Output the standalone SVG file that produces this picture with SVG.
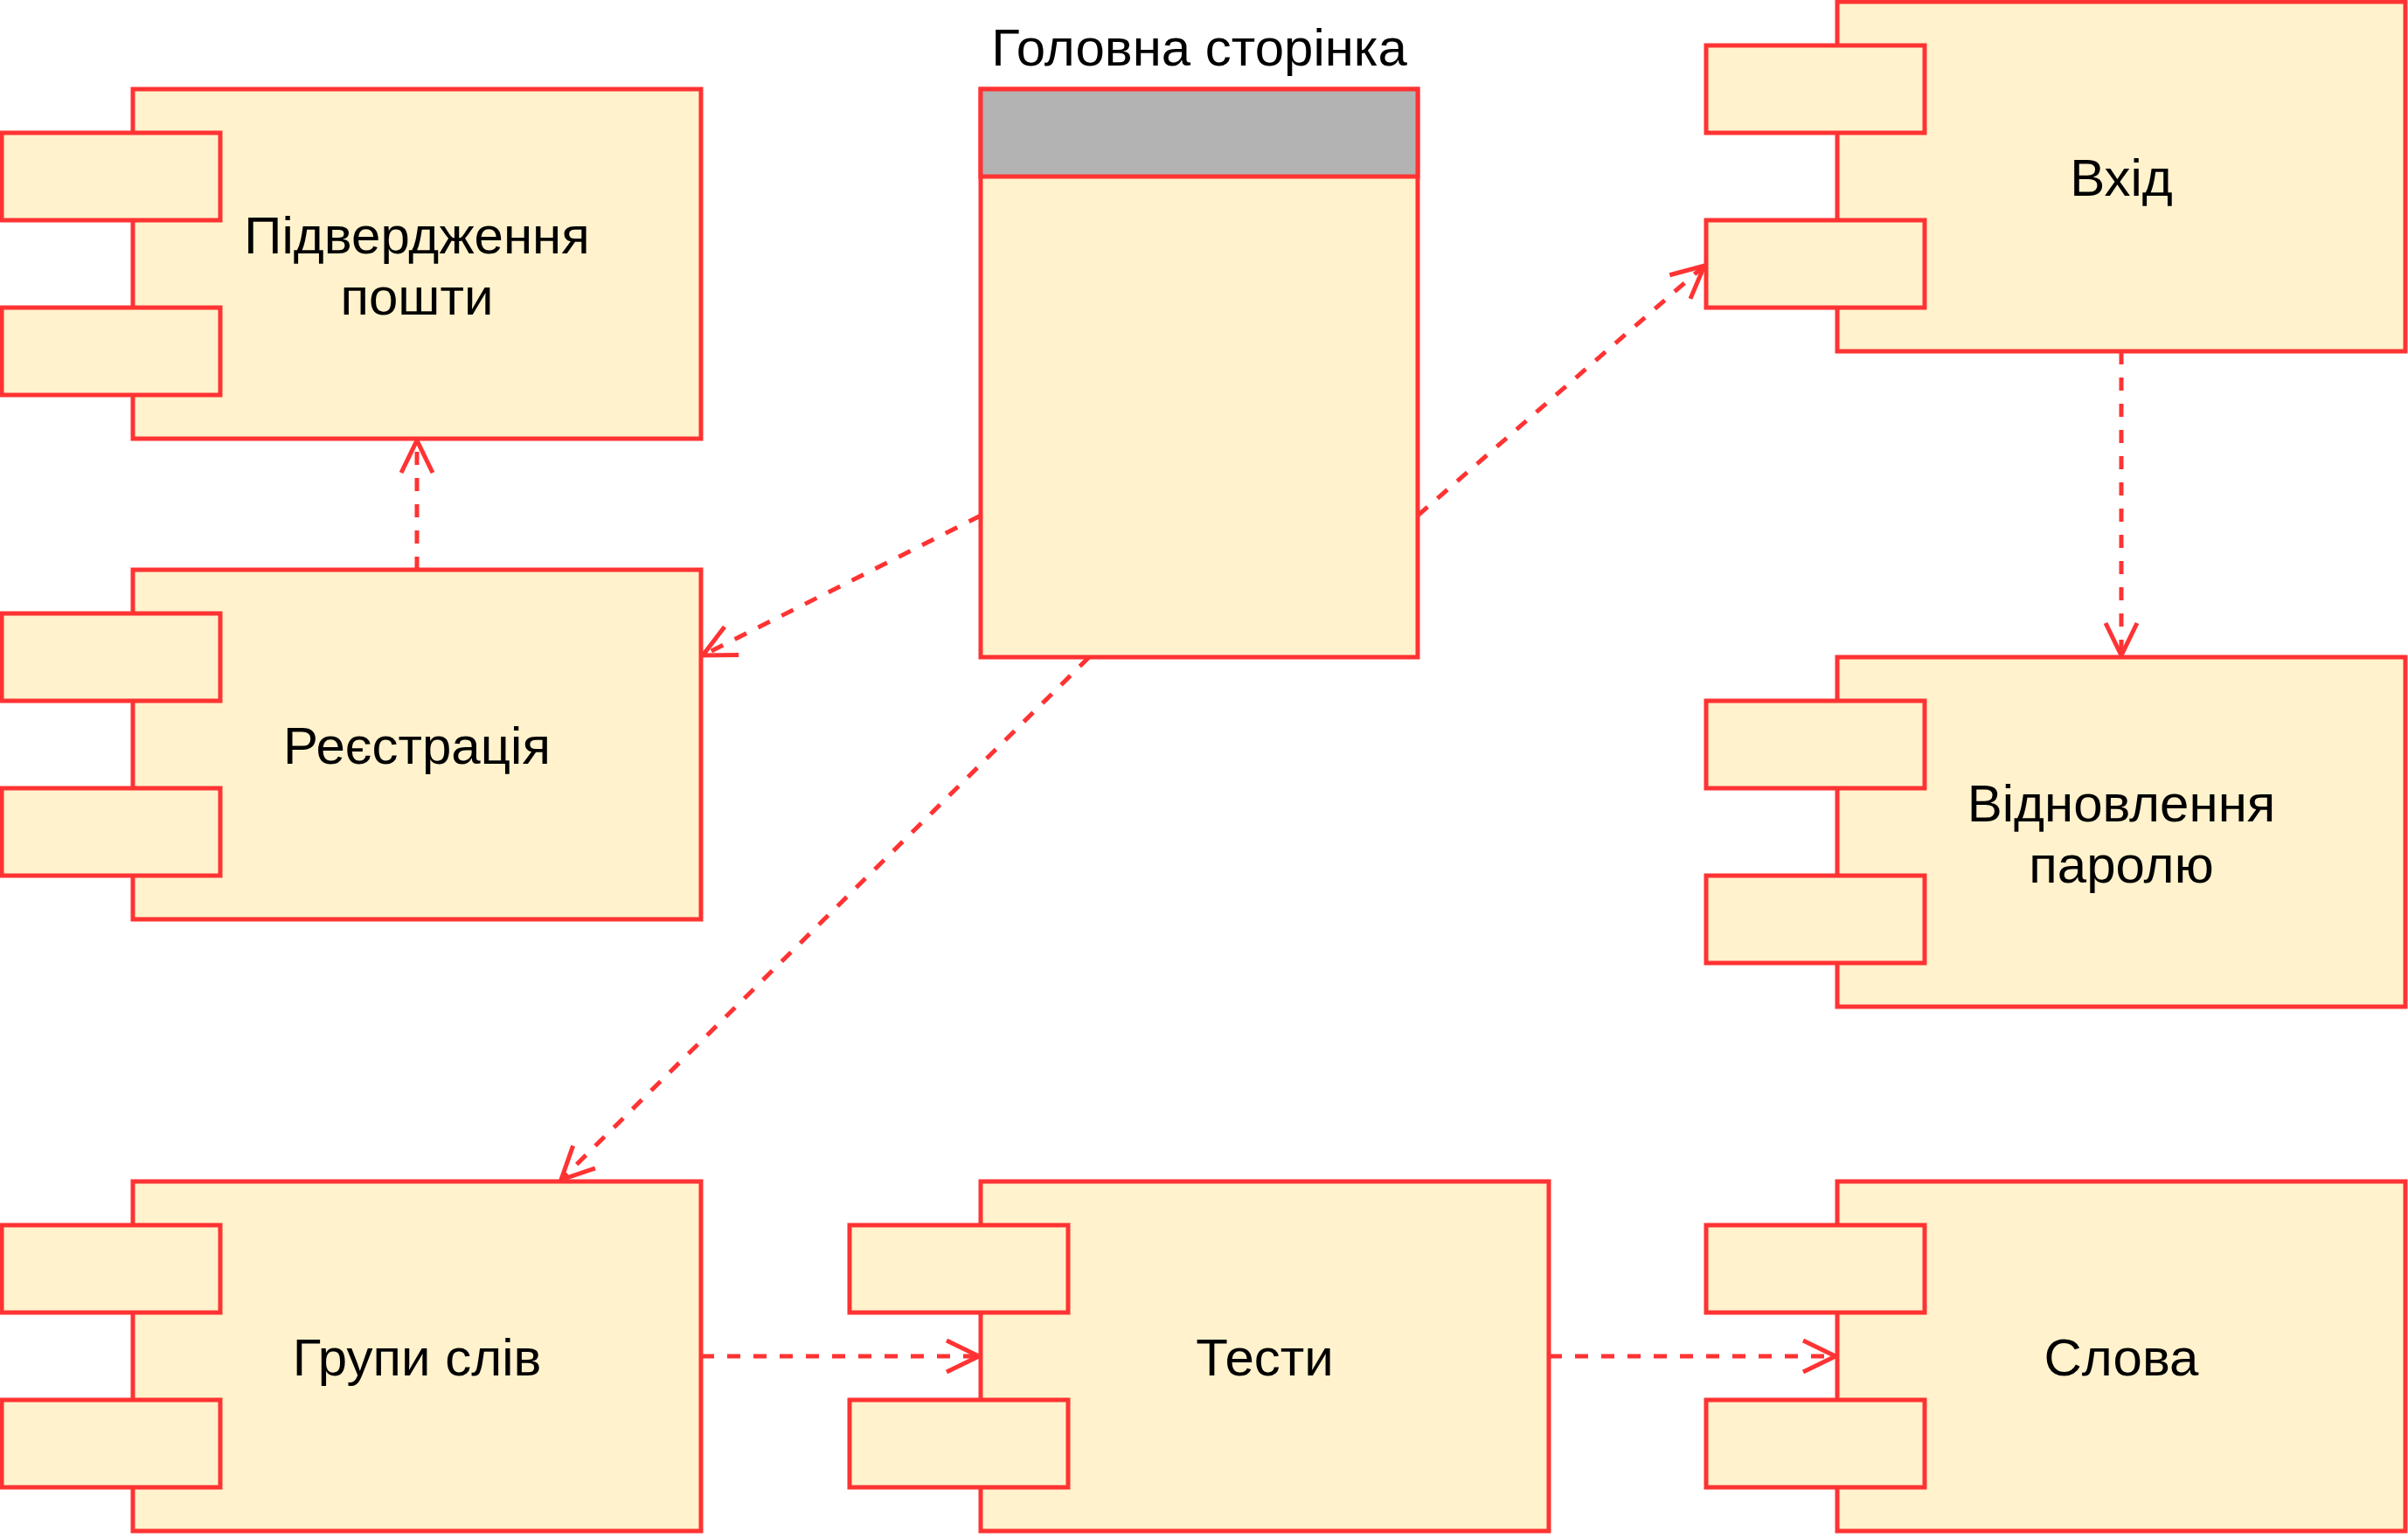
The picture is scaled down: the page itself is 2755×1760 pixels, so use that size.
<svg xmlns="http://www.w3.org/2000/svg" width="2755" height="1760" viewBox="0 0 2755 1760">
<style>
.box{fill:#fff2cc;stroke:#ff3333;stroke-width:5}
.hdr{fill:#b3b3b3;stroke:#ff3333;stroke-width:5}
.lbl{font-family:"Liberation Sans",Arial,sans-serif;font-size:60px;fill:#000;text-anchor:middle}
.edge{fill:none;stroke:#ff3333;stroke-width:5;stroke-dasharray:15 15}
</style>
<defs>
<marker id="open" markerUnits="userSpaceOnUse" markerWidth="60" markerHeight="60" viewBox="-45 -30 60 60" refX="0" refY="0" orient="auto" overflow="visible">
<path d="M -37 -18 L 0 0 L -37 18" fill="none" stroke="#ff3333" stroke-width="5" stroke-dasharray="none"/>
</marker>
</defs>
<rect width="2755" height="1760" fill="#ffffff"/>
<g id="connectors">
<path class="edge" d="M 477 652 L 477 504" marker-end="url(#open)"/>
<path class="edge" d="M 1122 590 L 804 750" marker-end="url(#open)"/>
<path class="edge" d="M 1622 590 L 1950 304" marker-end="url(#open)"/>
<path class="edge" d="M 1246 752 L 642 1350" marker-end="url(#open)"/>
<path class="edge" d="M 2427 402 L 2427 750" marker-end="url(#open)"/>
<path class="edge" d="M 802 1552 L 1120 1552" marker-end="url(#open)"/>
<path class="edge" d="M 1772 1552 L 2100 1552" marker-end="url(#open)"/>
</g>
<g id="main-page">
<text class="lbl" x="1372" y="75">Головна сторінка</text>
<rect class="box" x="1122" y="102" width="500" height="650"/>
<rect class="hdr" x="1122" y="102" width="500" height="100"/>
</g>
<g id="email-confirm">
<rect class="box" x="152" y="102" width="650" height="400"/>
<rect class="box" x="2" y="152" width="250" height="100"/>
<rect class="box" x="2" y="352" width="250" height="100"/>
<text class="lbl" x="477" y="290">Підвердження</text>
<text class="lbl" x="477" y="360">пошти</text>
</g>
<g id="registration">
<rect class="box" x="152" y="652" width="650" height="400"/>
<rect class="box" x="2" y="702" width="250" height="100"/>
<rect class="box" x="2" y="902" width="250" height="100"/>
<text class="lbl" x="477" y="874">Реєстрація</text>
</g>
<g id="login">
<rect class="box" x="2102" y="2" width="650" height="400"/>
<rect class="box" x="1952" y="52" width="250" height="100"/>
<rect class="box" x="1952" y="252" width="250" height="100"/>
<text class="lbl" x="2427" y="224">Вхід</text>
</g>
<g id="password-recovery">
<rect class="box" x="2102" y="752" width="650" height="400"/>
<rect class="box" x="1952" y="802" width="250" height="100"/>
<rect class="box" x="1952" y="1002" width="250" height="100"/>
<text class="lbl" x="2427" y="940">Відновлення</text>
<text class="lbl" x="2427" y="1010">паролю</text>
</g>
<g id="word-groups">
<rect class="box" x="152" y="1352" width="650" height="400"/>
<rect class="box" x="2" y="1402" width="250" height="100"/>
<rect class="box" x="2" y="1602" width="250" height="100"/>
<text class="lbl" x="477" y="1574">Групи слів</text>
</g>
<g id="tests">
<rect class="box" x="1122" y="1352" width="650" height="400"/>
<rect class="box" x="972" y="1402" width="250" height="100"/>
<rect class="box" x="972" y="1602" width="250" height="100"/>
<text class="lbl" x="1447" y="1574">Тести</text>
</g>
<g id="words">
<rect class="box" x="2102" y="1352" width="650" height="400"/>
<rect class="box" x="1952" y="1402" width="250" height="100"/>
<rect class="box" x="1952" y="1602" width="250" height="100"/>
<text class="lbl" x="2427" y="1574">Слова</text>
</g>
</svg>
